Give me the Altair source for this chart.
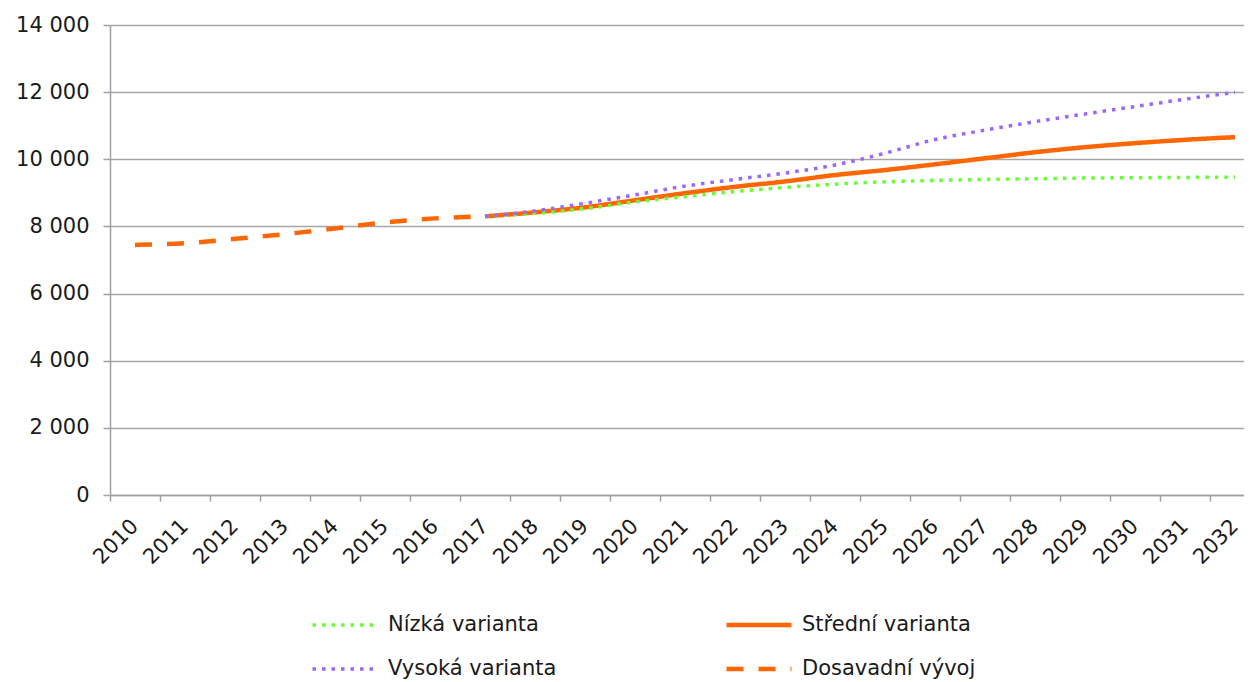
import altair as alt
import pandas as pd

years = [str(y) for y in range(2010, 2033)]
hist_years = years[:8]          # 2010-2017
proj_years = years[7:]          # 2017-2032

dosavadni = [7450, 7500, 7630, 7770, 7940, 8120, 8240, 8300]
stredni = [8300, 8420, 8570, 8780, 8990, 9180, 9340, 9530,
           9680, 9850, 10030, 10210, 10360, 10480, 10580, 10660]
nizka = [8300, 8390, 8530, 8730, 8890, 9040, 9160, 9260,
         9330, 9370, 9400, 9420, 9440, 9450, 9460, 9470]
vysoka = [8300, 8460, 8690, 8940, 9200, 9400, 9590, 9830,
          10180, 10590, 10870, 11120, 11350, 11570, 11790, 11990]

# legend fills column by column: col 1 = Nízká, Vysoká; col 2 = Střední, Dosavadní
series_names = ["Nízká varianta", "Vysoká varianta", "Střední varianta", "Dosavadní vývoj"]
series_colors = ["#66ff33", "#9966ff", "#ff6600", "#ff6600"]
series_dashes = [[3.5, 6], [3.5, 6], [1, 0], [17, 15]]
series_widths = [3.5, 3.5, 4.5, 4.5]
y_ticks = [0, 2000, 4000, 6000, 8000, 10000, 12000, 14000]

rows = []
for name, xs, vals in [("Dosavadní vývoj", hist_years, dosavadni),
                       ("Střední varianta", proj_years, stredni),
                       ("Nízká varianta", proj_years, nizka),
                       ("Vysoká varianta", proj_years, vysoka)]:
    for x, v in zip(xs, vals):
        rows.append({"rok": x, "hodnota": v, "rada": name})
df = pd.DataFrame(rows)

legend = alt.Legend(
    title=None, orient="none", legendX=200, legendY=588, columns=2,
    columnPadding=167, rowPadding=20, clipHeight=24, padding=0,
    symbolType="stroke", symbolSize=4225, labelFontSize=21, labelLimit=400,
    labelFont="DejaVu Sans", labelOffset=8, labelColor="#1a1a1a",
)

chart = alt.Chart(df).mark_line(interpolate="monotone", strokeCap="butt").encode(
    x=alt.X(
        "rok:O",
        scale=alt.Scale(type="band", domain=years, range=[0, 1150], paddingInner=0, paddingOuter=0),
        axis=alt.Axis(
            title=None, labelAngle=-45, tickBand="extent", grid=False,
            tickSize=6, tickColor="#a0a0a0", tickWidth=1.5,
            domainColor="#a0a0a0", domainWidth=1.5,
            labelFontSize=21, labelColor="#1a1a1a", labelPadding=14, labelOffset=-8,
        ),
    ),
    y=alt.Y(
        "hodnota:Q",
        scale=alt.Scale(domain=[0, 14000], nice=False),
        axis=alt.Axis(
            title=None, values=y_ticks,
            labelExpr="replace(format(datum.value, ','), ',', ' ')",
            tickSize=7, tickColor="#a0a0a0", tickWidth=1.5,
            domainColor="#a0a0a0", domainWidth=1.5,
            gridColor="#a6a6a6", gridWidth=1.5,
            labelFontSize=21, labelColor="#1a1a1a", labelPadding=14,
        ),
    ),
    color=alt.Color("rada:N", scale=alt.Scale(domain=series_names, range=series_colors), legend=legend),
    strokeDash=alt.StrokeDash("rada:N", scale=alt.Scale(type="ordinal", domain=series_names, range=series_dashes), legend=legend),
    strokeWidth=alt.StrokeWidth("rada:N", scale=alt.Scale(type="ordinal", domain=series_names, range=series_widths), legend=legend),
).properties(
    width=1134,
    height=470,
    autosize=alt.AutoSizeParams(type="none"),
    padding={"left": 102, "top": 17, "right": 0, "bottom": 187},
).configure(
    font="DejaVu Sans",
).configure_view(
    stroke=None,
)

chart.save("out.html", embed_options={"renderer": "svg", "actions": False})
